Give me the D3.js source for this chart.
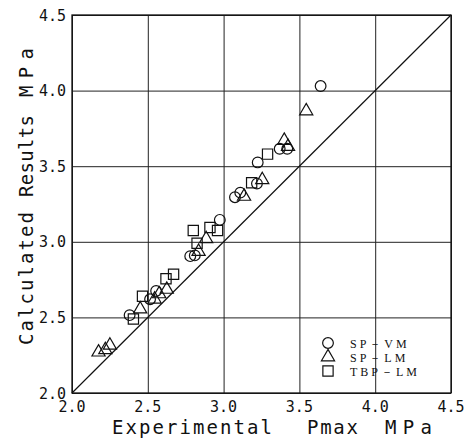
<!DOCTYPE html>
<html>
<head>
<meta charset="utf-8">
<script src="https://cdn.jsdelivr.net/npm/d3@7"></script>
<style>
  html, body { margin: 0; padding: 0; background: #fff; }
  svg { display: block; }
</style>
</head>
<body>
<svg id="chart" width="471" height="443"></svg>
<script>
// Experimental vs calculated maximum pressure (MPa)
const tickValues = [2.0, 2.5, 3.0, 3.5, 4.0, 4.5];

const spVM = [
  [2.38, 2.515], [2.515, 2.62], [2.555, 2.675], [2.78, 2.905], [2.81, 2.91],
  [2.975, 3.145], [3.075, 3.295], [3.11, 3.325], [3.22, 3.385], [3.225, 3.525],
  [3.37, 3.615], [3.42, 3.615], [3.64, 4.03]
];
const spLM = [
  [2.175, 2.27], [2.22, 2.285], [2.25, 2.315], [2.45, 2.555], [2.545, 2.62],
  [2.575, 2.655], [2.625, 2.685], [2.835, 2.935], [2.885, 3.02], [3.135, 3.30],
  [3.255, 3.41], [3.425, 3.63], [3.40, 3.67], [3.545, 3.865]
];
const tbpLM = [
  [2.405, 2.49], [2.465, 2.64], [2.62, 2.755], [2.67, 2.785], [2.80, 3.075],
  [2.825, 2.99], [2.91, 3.095], [2.96, 3.075], [3.185, 3.39], [3.29, 3.58]
];
const legendLabels = ["SP－VM", "SP－LM", "TBP－LM"];
const xTitleWords = ["Experimental", "Pmax", "MPa"];
const yTitleWords = ["Calculated", "Results", "MPa"];

const svg = d3.select("#chart");
const plotLeft = 72, plotTop = 15, plotRight = 451, plotBottom = 393;
const x = d3.scaleLinear().domain([2, 4.5]).range([plotLeft, plotRight]);
const y = d3.scaleLinear().domain([2, 4.5]).range([plotBottom, plotTop]);

// grid lines
const gx = svg.append("g").attr("transform", `translate(0,${plotBottom})`)
  .call(d3.axisBottom(x).tickValues(tickValues).tickSize(-(plotBottom - plotTop)).tickFormat(""));
const gy = svg.append("g").attr("transform", `translate(${plotLeft},0)`)
  .call(d3.axisLeft(y).tickValues(tickValues).tickSize(-(plotRight - plotLeft)).tickFormat(""));
[gx, gy].forEach(g => {
  g.select(".domain").remove();
  g.selectAll("line").attr("stroke", "#222").attr("stroke-width", 1);
});

// frame
svg.append("rect")
  .attr("x", plotLeft).attr("y", plotTop)
  .attr("width", plotRight - plotLeft).attr("height", plotBottom - plotTop)
  .attr("fill", "none").attr("stroke", "#111").attr("stroke-width", 1.3);

// tick labels (plotter-style monospace)
const monoFont = "'DejaVu Sans Mono', monospace";
svg.append("g").selectAll("text").data(tickValues).join("text")
  .attr("x", d => x(d)).attr("y", plotBottom + 19)
  .attr("text-anchor", "middle")
  .attr("font-family", monoFont).attr("font-size", 15).attr("fill", "#111")
  .text(d => d3.format(".1f")(d));
svg.append("g").selectAll("text").data(tickValues).join("text")
  .attr("x", plotLeft - 6).attr("y", d => y(d) + 5.5)
  .attr("text-anchor", "end")
  .attr("font-family", monoFont).attr("font-size", 15).attr("fill", "#111")
  .text(d => d3.format(".1f")(d));

// axis titles: each word placed along its own run
const xWordSpans = [[112, 160], [307, 51], [385, 47]];
xTitleWords.forEach((w, i) => {
  svg.append("text")
    .attr("x", xWordSpans[i][0]).attr("y", 434)
    .attr("font-family", monoFont).attr("font-size", 19).attr("fill", "#111")
    .attr("textLength", xWordSpans[i][1]).attr("lengthAdjust", "spacing")
    .text(w);
});
const yWordSpans = [[345, 133], [197, 82], [97, 49]];
yTitleWords.forEach((w, i) => {
  svg.append("text")
    .attr("transform", `translate(33,${yWordSpans[i][0]}) rotate(-90)`)
    .attr("font-family", monoFont).attr("font-size", 19).attr("fill", "#111")
    .attr("textLength", yWordSpans[i][1]).attr("lengthAdjust", "spacing")
    .text(w);
});

// diagonal y = x
svg.append("line")
  .attr("x1", x(2)).attr("y1", y(2)).attr("x2", x(4.5)).attr("y2", y(4.5))
  .attr("stroke", "#111").attr("stroke-width", 1.2);

// marker shapes
const markStyle = sel => sel.attr("fill", "none").attr("stroke", "#111").attr("stroke-width", 1.2);
const circle = d3.symbol().type(d3.symbolCircle).size(90);
const triangle = d3.symbol().type(d3.symbolTriangle).size(75);
const square = d3.symbol().type(d3.symbolSquare).size(105);

const series = [
  { data: spVM, sym: circle },
  { data: spLM, sym: triangle },
  { data: tbpLM, sym: square }
];
series.forEach(s => {
  svg.append("g").selectAll("path").data(s.data).join("path")
    .attr("transform", d => `translate(${x(d[0])},${y(d[1])})`)
    .attr("d", s.sym())
    .call(markStyle);
});

// legend
const legend = svg.append("g");
legendLabels.forEach((label, i) => {
  const ly = 343 + i * 14;
  legend.append("path")
    .attr("transform", `translate(328,${ly})`)
    .attr("d", series[i].sym())
    .call(markStyle);
  legend.append("text")
    .attr("x", 350).attr("y", ly + 4.5)
    .attr("font-family", "'Liberation Serif', serif").attr("font-size", 12)
    .attr("letter-spacing", 3).attr("fill", "#111")
    .text(label);
});
</script>
</body>
</html>
